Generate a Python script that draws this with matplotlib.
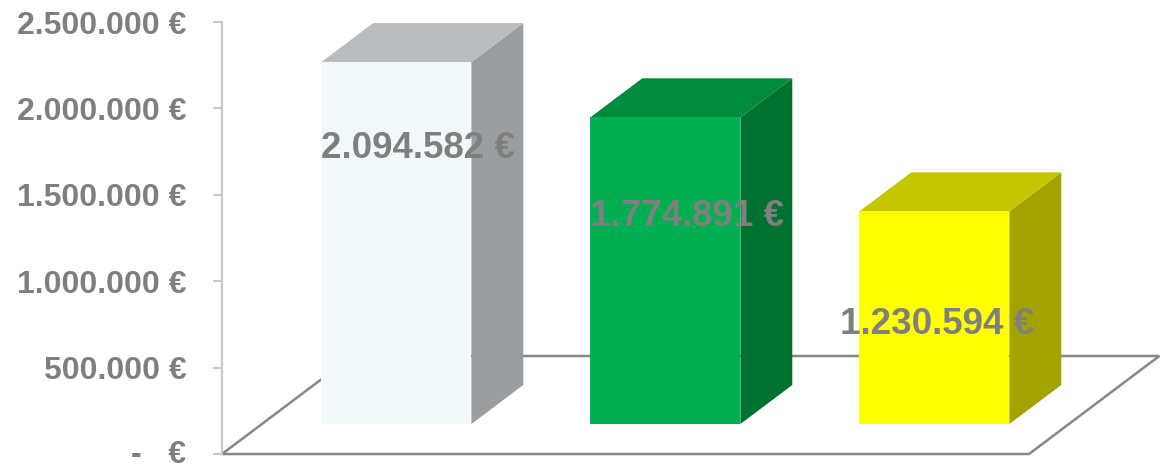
import matplotlib

matplotlib.use('Agg')
import matplotlib.pyplot as plt
from matplotlib.transforms import ScaledTranslation

# Daten
categories = ['A', 'B', 'C']
values = [2094582, 1774891, 1230594]
value_labels = ['2.094.582 €', '1.774.891 €', '1.230.594 €']
yticks = [0, 500000, 1000000, 1500000, 2000000, 2500000]
ytick_labels = ['-   €', '500.000 €', '1.000.000 €', '1.500.000 €', '2.000.000 €', '2.500.000 €']

# Farben (Vorderseite, Seite, Oberseite)
front_colors = ['#f0f8fa', '#00b050', '#ffff00']
side_colors = ['#9a9ea0', '#00722f', '#a3a300']
top_colors = ['#b9bdbf', '#008a3c', '#c5c500']
grey = '#7f7f7f'

plt.rcParams['font.family'] = ['Liberation Sans', 'DejaVu Sans']

fig = plt.figure(figsize=(11.7, 4.65), dpi=100)
ax = fig.add_axes([222 / 1170, 11 / 465, 938 / 1170, 432 / 465])
ax.set_xlim(-0.5, -0.5 + 938 / 269)
ax.set_ylim(0, 2500000)

# Umrechnung Tiefe (Pixel) -> Datenkoordinaten
px_x = 1 / 269
px_y = 2500000 / 432
depth_ratio = 1.33


def shift(x, y, z):
    # Punkt um Tiefe z (in Pixel nach hinten) verschieben
    return (x + z * depth_ratio * px_x, y + z * px_y)


# Boden
floor_depth = 98
floor = [shift(-0.5, 0, 0), shift(2.5, 0, 0), shift(2.5, 0, floor_depth), shift(-0.5, 0, floor_depth)]
ax.add_patch(plt.Polygon(floor, closed=True, facecolor='white', edgecolor='#878787',
                         linewidth=1.8, zorder=1, clip_on=False))

# 3D-Säulen
bar_w = 150 / 269
z_front = 30
z_back = 69
for i, v in enumerate(values):
    x0 = i - bar_w / 2
    x1 = i + bar_w / 2
    f = [shift(x0, 0, z_front), shift(x1, 0, z_front), shift(x1, v, z_front), shift(x0, v, z_front)]
    s = [shift(x1, 0, z_front), shift(x1, 0, z_back), shift(x1, v, z_back), shift(x1, v, z_front)]
    t = [shift(x0, v, z_front), shift(x1, v, z_front), shift(x1, v, z_back), shift(x0, v, z_back)]
    ax.add_patch(plt.Polygon(s, closed=True, facecolor=side_colors[i], edgecolor='none', zorder=2, clip_on=False))
    ax.add_patch(plt.Polygon(t, closed=True, facecolor=top_colors[i], edgecolor='none', zorder=2, clip_on=False))
    ax.add_patch(plt.Polygon(f, closed=True, facecolor=front_colors[i], edgecolor='none', zorder=3, clip_on=False))

# Datenbeschriftungen
label_dx = [22, 22, 3]
label_dy = [86, 99, 113]
for i, v in enumerate(values):
    ax.annotate(value_labels[i], xy=shift(i, v, z_front), xytext=(label_dx[i], -label_dy[i]),
                textcoords='offset pixels', ha='center', va='center', fontsize=26.5,
                fontweight='bold', color=grey, zorder=5, annotation_clip=False)

# Achsen
ax.set_yticks(yticks)
ax.set_yticklabels(ytick_labels)
ax.set_xticks([])
ax.tick_params(axis='y', length=6.5, width=1.5, color='#c8c8c8', pad=19, labelsize=23, labelcolor=grey)
for lbl in ax.get_yticklabels():
    lbl.set_fontweight('bold')
# unterste Beschriftung etwas anheben, damit sie nicht abgeschnitten wird
zero_lbl = ax.get_yticklabels()[0]
zero_lbl.set_transform(zero_lbl.get_transform() + ScaledTranslation(0, 3 / 100, fig.dpi_scale_trans))
for side in ['top', 'right', 'bottom']:
    ax.spines[side].set_visible(False)
ax.spines['left'].set_color('#c8c8c8')
ax.spines['left'].set_linewidth(1.5)
ax.patch.set_visible(False)

plt.savefig('out.png', dpi=100)
plt.close()
